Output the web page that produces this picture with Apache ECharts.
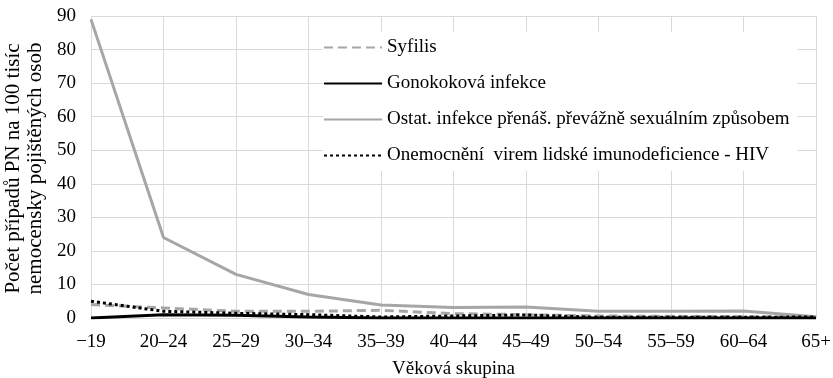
<!DOCTYPE html>
<html>
<head>
<meta charset="utf-8">
<script src="https://cdn.jsdelivr.net/npm/echarts@6/dist/echarts.min.js"></script>
<style>
  html, body { margin: 0; padding: 0; background: #fff; }
  #chart { width: 833px; height: 378px; }
</style>
</head>
<body>
<div id="chart"></div>
<script>
// Age groups on the category axis
const ageGroups = ['\u221219', '20\u201324', '25\u201329', '30\u201334', '35\u201339', '40\u201344', '45\u201349', '50\u201354', '55\u201359', '60\u201364', '65+'];

// Sick-leave cases per 100 thousand insured persons
const syfilis = [4, 3, 2, 2, 2.3, 1.3, 1, 0.6, 0.5, 0.4, 0.3];
const gonokokova = [0, 1, 0.8, 0.3, 0, 0, 0, 0, 0, 0, 0];
const ostatni = [89, 24, 13, 7, 3.9, 3.1, 3.3, 2, 2, 2.1, 0.4];
const hiv = [5, 2, 1.4, 1, 0.3, 0.6, 0.9, 0.2, 0.2, 0.2, 0.3];

const yTicks = { min: 0, max: 90, interval: 10 };

const serif = 'Liberation Serif, Times New Roman, serif';
const chart = echarts.init(document.getElementById('chart'));

function lineSeries(name, data, color, type, width, z) {
  return {
    name: name,
    type: 'line',
    data: data,
    symbol: 'none',
    z: z,
    lineStyle: { color: color, width: width, type: type },
    itemStyle: { color: color }
  };
}

chart.setOption({
  animation: false,
  textStyle: { fontFamily: serif },
  grid: { left: 91, right: 17, top: 16, bottom: 60, containLabel: false, outerBoundsMode: 'none' },
  legend: {
    orient: 'vertical',
    left: 323,
    top: 32,
    itemWidth: 58,
    itemHeight: 14,
    itemGap: 17,
    padding: [6, 8, 6, 0],
    backgroundColor: '#ffffff',
    itemStyle: { opacity: 0 },
    textStyle: { fontFamily: serif, fontSize: 19, color: '#000' },
    data: ['Syfilis', 'Gonokoková infekce', 'Ostat. infekce přenáš. převážně sexuálním způsobem', 'Onemocnění  virem lidské imunodeficience - HIV']
  },
  xAxis: {
    type: 'category',
    data: ageGroups,
    boundaryGap: false,
    name: 'Věková skupina',
    nameLocation: 'middle',
    nameGap: 42,
    nameTextStyle: { fontFamily: serif, fontSize: 19, color: '#000' },
    axisLine: { lineStyle: { color: '#d9d9d9' } },
    axisTick: { show: false },
    axisLabel: { fontFamily: serif, fontSize: 19, color: '#000', margin: 15 },
    splitLine: { show: true, lineStyle: { color: '#d9d9d9' } }
  },
  yAxis: {
    type: 'value',
    min: yTicks.min,
    max: yTicks.max,
    interval: yTicks.interval,
    name: 'Počet případů PN na 100 tisíc\nnemocensky pojištěných osob',
    nameLocation: 'middle',
    nameGap: 37,
    nameTextStyle: { fontFamily: serif, fontSize: 21, color: '#000', lineHeight: 22, padding: [0, 3, 0, 0] },
    axisLine: { show: false },
    axisTick: { show: false },
    axisLabel: { fontFamily: serif, fontSize: 19, color: '#000', margin: 15 },
    splitLine: { lineStyle: { color: '#d9d9d9' } }
  },
  series: [
    lineSeries('Syfilis', syfilis, '#a6a6a6', [9, 5], 3, 3),
    lineSeries('Gonokoková infekce', gonokokova, '#000000', 'solid', 3, 4),
    lineSeries('Ostat. infekce přenáš. převážně sexuálním způsobem', ostatni, '#a6a6a6', 'solid', 3, 2),
    lineSeries('Onemocnění  virem lidské imunodeficience - HIV', hiv, '#000000', [3, 3], 3, 5)
  ]
});
</script>
</body>
</html>
